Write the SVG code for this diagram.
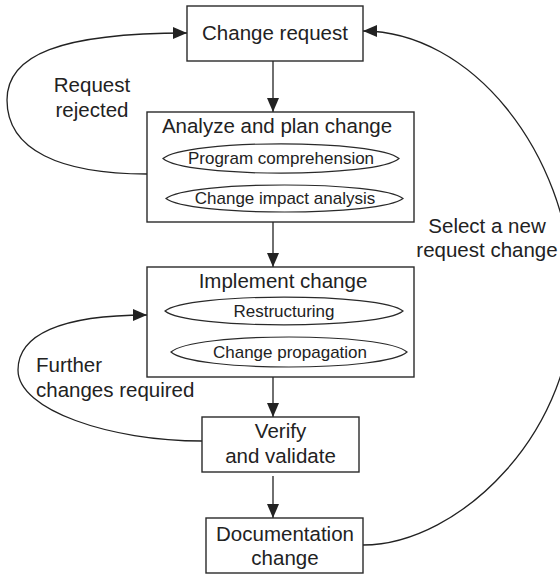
<svg xmlns="http://www.w3.org/2000/svg" width="560" height="574" viewBox="0 0 560 574">
<style>
.box{fill:#fff;stroke:#2a2a2a;stroke-width:1.4}
.ell{fill:#fff;stroke:#2a2a2a;stroke-width:1.2}
.t{font-family:"Liberation Sans",Arial,sans-serif;font-size:20.5px;fill:#222;text-anchor:middle}
.s{font-family:"Liberation Sans",Arial,sans-serif;font-size:17px;fill:#222;text-anchor:middle}
.l{font-family:"Liberation Sans",Arial,sans-serif;font-size:20.5px;fill:#222}
.c{fill:none;stroke:#222;stroke-width:1.3}
</style>
<defs>
<marker id="ah" markerUnits="userSpaceOnUse" markerWidth="16" markerHeight="12" refX="14" refY="6" orient="auto">
<path d="M0,0 L14,6 L0,12 Z" fill="#222"/>
</marker>
</defs>
<rect width="560" height="574" fill="#fff"/>
<g id="connectors">
<line class="c" x1="273" y1="61" x2="273" y2="112" marker-end="url(#ah)"/>
<line class="c" x1="273" y1="222" x2="273" y2="267" marker-end="url(#ah)"/>
<line class="c" x1="273" y1="377" x2="273" y2="417" marker-end="url(#ah)"/>
<line class="c" x1="273" y1="476" x2="273" y2="518" marker-end="url(#ah)"/>
<path class="c" d="M147,174 C60,174 7,150 7,100 C7,55 60,33 187,33" marker-end="url(#ah)"/>
<path class="c" d="M202,441 C110,441 18,410 18,370 C18,335 60,315 147,315" marker-end="url(#ah)"/>
<path class="c" d="M363,545 C460,545 578,430 573,290 C568,150 470,31 363,31" marker-end="url(#ah)"/>
</g>
<g id="change-request">
<rect class="box" x="187" y="6" width="176" height="55"/>
<text class="t" x="275" y="40">Change request</text>
</g>
<g id="analyze">
<rect class="box" x="147" y="112" width="267" height="110"/>
<text class="t" x="277" y="133">Analyze and plan change</text>
<path class="ell" d="M163,158.5 C185,139 377,139 399,158.5 C377,178 185,178 163,158.5 Z"/>
<text class="s" x="281" y="164">Program comprehension</text>
<path class="ell" d="M166,198.5 C188,180.5 381,180.5 403,198.5 C381,216.5 188,216.5 166,198.5 Z"/>
<text class="s" x="285" y="204">Change impact analysis</text>
</g>
<g id="implement">
<rect class="box" x="147" y="267" width="267" height="110"/>
<text class="t" x="283" y="288">Implement change</text>
<path class="ell" d="M165,311 C187,292.5 381,292.5 403,311 C381,329.5 187,329.5 165,311 Z"/>
<text class="s" x="284" y="317">Restructuring</text>
<path class="ell" d="M171,352 C193,332 385,332 407,352 C385,372 193,372 171,352 Z"/>
<text class="s" x="290" y="358">Change propagation</text>
</g>
<g id="verify">
<rect class="box" x="202" y="417" width="157" height="55"/>
<text class="t" x="280.5" y="438">Verify</text>
<text class="t" x="280.5" y="463">and validate</text>
</g>
<g id="documentation">
<rect class="box" x="206" y="518" width="157" height="55"/>
<text class="t" x="285" y="541">Documentation</text>
<text class="t" x="285" y="565">change</text>
</g>
<g id="labels">
<text class="t" x="92" y="92">Request</text>
<text class="t" x="92" y="117">rejected</text>
<text class="l" x="36" y="372">Further</text>
<text class="l" x="36" y="397">changes required</text>
<text class="t" x="487" y="233">Select a new</text>
<text class="t" x="487" y="257">request change</text>
</g>
</svg>
